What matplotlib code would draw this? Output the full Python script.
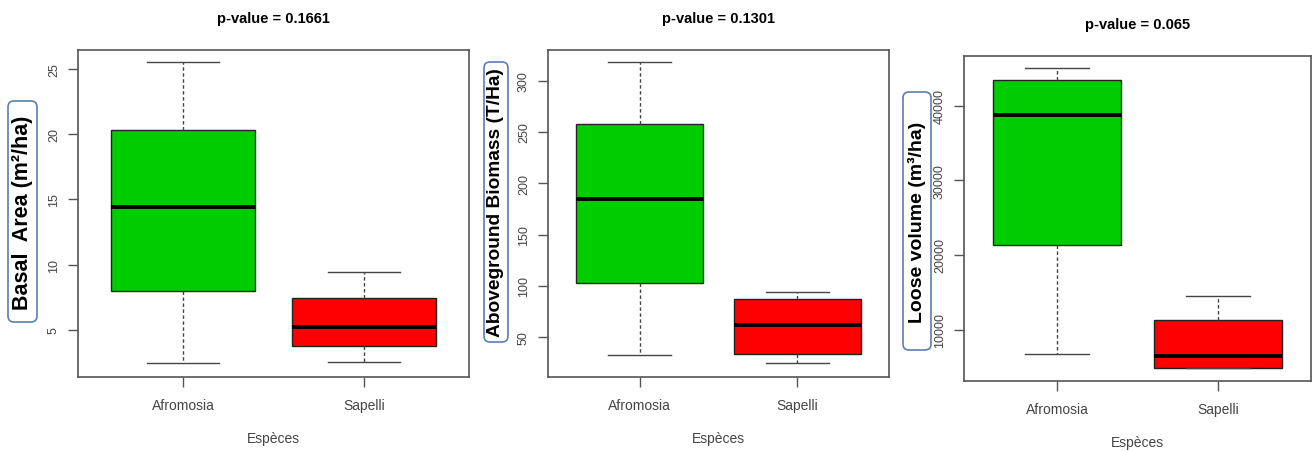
import matplotlib
matplotlib.use("Agg")
import matplotlib.pyplot as plt
from matplotlib.patches import FancyBboxPatch
from matplotlib.transforms import Affine2D

# ---------------- data ----------------
species = ["Afromosia", "Sapelli"]
xlabel = "Espèces"

titles = ["p-value = 0.1661", "p-value = 0.1301", "p-value = 0.065"]
ylabels = ["Basal  Area (m²/ha)", "Aboveground Biomass (T/Ha)", "Loose volume (m³/ha)"]

# five-number summaries per species: [Afromosia, Sapelli]
basal_whislo = [2.45, 2.5]
basal_q1 = [8.0, 3.78]
basal_med = [14.4, 5.2]
basal_q3 = [20.3, 7.43]
basal_whishi = [25.5, 9.4]

agb_whislo = [33.0, 25.0]
agb_q1 = [103.0, 34.0]
agb_med = [185.0, 62.0]
agb_q3 = [257.5, 87.0]
agb_whishi = [318.0, 94.0]

vol_whislo = [6750, 4820]
vol_q1 = [21300, 4820]
vol_med = [38800, 6500]
vol_q3 = [43400, 11300]
vol_whishi = [45000, 14450]

yticks_list = [[5, 10, 15, 20, 25],
               [50, 100, 150, 200, 250, 300],
               [10000, 20000, 30000, 40000]]
ylims = [(1.38, 26.44), (11.3, 329.8), (3120, 46645)]

box_colors = ["#00CD00", "#FF0000"]

# ---------------- layout (pixels) ----------------
W, H = 1313, 452
fig = plt.figure(figsize=(W / 100, H / 100), dpi=100)
plt.rcParams['font.family'] = ['Liberation Sans', 'DejaVu Sans']

ax_px = [(78, 469, 51, 378), (548, 889, 51, 378), (964, 1311, 57, 382)]
# label boxes: x0, x1, y0, y1 (pixels from top-left), font size
ylab_px = [(8, 37, 102, 323, 15.5), (484, 508, 63, 343, 13.8), (903, 931, 93, 351, 14.0)]

panels = [
    (basal_whislo, basal_q1, basal_med, basal_q3, basal_whishi),
    (agb_whislo, agb_q1, agb_med, agb_q3, agb_whishi),
    (vol_whislo, vol_q1, vol_med, vol_q3, vol_whishi),
]

frame_col = "#555555"
tick_col = "#444444"
# pixel coordinates measured from the top-left corner
pix = Affine2D().scale(1.0 / W, -1.0 / H).translate(0, 1) + fig.transFigure

for i, (stats_arrays, (l, r, t, b)) in enumerate(zip(panels, ax_px)):
    ax = fig.add_axes([l / W, 1 - b / H, (r - l) / W, (b - t) / H])
    wlo, q1, med, q3, whi = stats_arrays
    stats = []
    for j, name in enumerate(species):
        stats.append(dict(label=name, whislo=wlo[j], q1=q1[j], med=med[j],
                          q3=q3[j], whishi=whi[j], fliers=[]))
    bp = ax.bxp(stats, positions=[1, 2], widths=0.8, patch_artist=True,
                showfliers=False,
                boxprops=dict(edgecolor="#222222", linewidth=1.0),
                medianprops=dict(color="black", linewidth=2.8, solid_capstyle="butt"),
                whiskerprops=dict(color="#444444", linewidth=1.0, linestyle=(0, (2.5, 1.8))),
                capprops=dict(color="#444444", linewidth=1.0),
                capwidths=0.4)
    for patch, c in zip(bp["boxes"], box_colors):
        patch.set_facecolor(c)
    ax.set_xlim(0.42, 2.58)
    ax.set_ylim(*ylims[i])
    ax.set_yticks(yticks_list[i])
    ax.set_yticklabels([str(v) for v in yticks_list[i]], rotation=90, va="center",
                       fontsize=9, color=tick_col)
    ax.set_xticks([1, 2])
    ax.set_xticklabels(species, fontsize=10, color=tick_col)
    ax.tick_params(axis="both", direction="out", length=7, width=1.0, color=frame_col)
    ax.tick_params(axis="x", pad=8)
    ax.tick_params(axis="y", pad=6)
    for sp in ax.spines.values():
        sp.set_color(frame_col)
        sp.set_linewidth(1.2)
    ax.set_xlabel(xlabel, fontsize=10, color=tick_col, labelpad=14)
    ax.set_title(titles[i], fontsize=10.5, fontweight="bold", pad=20)

    x0, x1, y0, y1, fs = ylab_px[i]
    box = FancyBboxPatch((x0, y0), x1 - x0, y1 - y0,
                         boxstyle="round,pad=0,rounding_size=6",
                         transform=pix, facecolor="white",
                         edgecolor="#5b7fae", linewidth=1.2, zorder=1)
    fig.add_artist(box)
    fig.text((x0 + x1) / 2 / W, 1 - (y0 + y1) / 2 / H, ylabels[i], rotation=90,
             ha="center", va="center", fontsize=fs, fontweight="bold", color="black",
             zorder=2)

fig.savefig("out.png", dpi=100, facecolor="white")
